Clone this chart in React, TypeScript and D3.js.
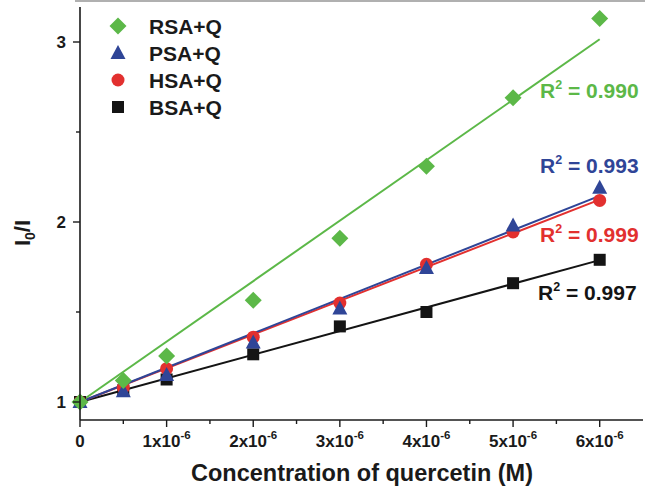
import React from "react";
import * as d3 from "d3";

const concentrations = [0, 0.5e-6, 1e-6, 2e-6, 3e-6, 4e-6, 5e-6, 6e-6];
const seriesNames = ["RSA+Q", "PSA+Q", "HSA+Q", "BSA+Q"];
const rsaValues = [1.0, 1.12, 1.255, 1.565, 1.91, 2.31, 2.69, 3.13];
const psaValues = [1.0, 1.06, 1.15, 1.33, 1.52, 1.745, 1.98, 2.19];
const hsaValues = [1.0, 1.08, 1.185, 1.36, 1.55, 1.765, 1.945, 2.12];
const bsaValues = [1.0, 1.065, 1.125, 1.265, 1.42, 1.5, 1.66, 1.79];
const r2Labels = ["0.990", "0.993", "0.999", "0.997"];
const xTickValues = [0, 1e-6, 2e-6, 3e-6, 4e-6, 5e-6, 6e-6];
const xTickMantissas = ["0", "1x10", "2x10", "3x10", "4x10", "5x10", "6x10"];
const yTickValues = [1, 2, 3];
const yTickLabels = ["1", "2", "3"];

const colors = ["#5cb848", "#2f4597", "#e2302f", "#141414"];
const shapes = ["diamond", "triangle", "circle", "square"];
const seriesValues = [rsaValues, psaValues, hsaValues, bsaValues];
const r2Pos = [
  { x: 540, y: 98 },
  { x: 540, y: 173 },
  { x: 540, y: 242 },
  { x: 538, y: 300 },
];
const FONT = "'Liberation Sans', Arial, Helvetica, sans-serif";

function Marker({ shape, x, y, color }: { shape: string; x: number; y: number; color: string }) {
  if (shape === "diamond") {
    const r = 8.5;
    return <path d={`M${x},${y - r}L${x + r},${y}L${x},${y + r}L${x - r},${y}Z`} fill={color} />;
  }
  if (shape === "triangle") {
    const w = 7.5;
    return <path d={`M${x},${y - 8}L${x + w},${y + 6}L${x - w},${y + 6}Z`} fill={color} />;
  }
  if (shape === "circle") return <circle cx={x} cy={y} r={6.5} fill={color} />;
  return <rect x={x - 6} y={y - 6} width={12} height={12} fill={color} />;
}

export default function App() {
  const width = 645;
  const height = 499;
  const x = d3.scaleLinear().domain([0, 6.5e-6]).range([80, 643]);
  const y = d3.scaleLinear().domain([0.9, 3.2]).range([420, 6]);

  // Stern–Volmer fit with intercept fixed at 1
  const fits = seriesValues.map((vals) => {
    const sxy = d3.sum(concentrations, (c, i) => c * (vals[i] - 1));
    const sxx = d3.sum(concentrations, (c) => c * c);
    const k = sxy / sxx;
    const xs = [0, 6e-6];
    return d3.line<number>().x((c) => x(c)).y((c) => y(1 + k * c))(xs) as string;
  });

  const xMinor = d3.range(0, 13).map((i) => i * 0.5e-6);
  const yMinor = [1.5, 2.5];
  const axisColor = "#1a1a1a";

  const drawOrder = [3, 2, 1, 0];

  return (
    <svg
      width={width}
      height={height}
      style={{ position: "absolute", left: 0, top: 0, background: "#fff" }}
      fontFamily={FONT}
      fontWeight="bold"
    >
      <rect x={0} y={0} width={width} height={height} fill="#fff" />
      <rect x={75} y={0} width={570} height={2} fill="#b0b0b0" />

      {/* fit lines */}
      {drawOrder.map((si) => (
        <path key={"l" + si} d={fits[si]} fill="none" stroke={colors[si]} strokeWidth={2} />
      ))}

      {/* markers */}
      {drawOrder.map((si) =>
        concentrations.map((c, i) => (
          <Marker key={`m${si}-${i}`} shape={shapes[si]} x={x(c)} y={y(seriesValues[si][i])} color={colors[si]} />
        ))
      )}

      {/* axes */}
      <line x1={x(0)} x2={643} y1={420} y2={420} stroke={axisColor} strokeWidth={1.6} />
      <line x1={x(0)} x2={x(0)} y1={7} y2={420} stroke={axisColor} strokeWidth={1.6} />
      {xMinor.map((v, i) => (
        <line key={"xt" + i} x1={x(v)} x2={x(v)} y1={420} y2={i % 2 === 0 ? 427 : 424} stroke={axisColor} strokeWidth={1.4} />
      ))}
      {yTickValues.map((v) => (
        <line key={"yt" + v} x1={x(0) - 7} x2={x(0)} y1={y(v)} y2={y(v)} stroke={axisColor} strokeWidth={1.4} />
      ))}
      {yMinor.map((v) => (
        <line key={"ym" + v} x1={x(0) - 4} x2={x(0)} y1={y(v)} y2={y(v)} stroke={axisColor} strokeWidth={1.4} />
      ))}

      {/* y tick labels */}
      {yTickValues.map((v, i) => (
        <text key={"yl" + v} x={66} y={y(v)} dy="0.36em" textAnchor="end" fontSize={17} fill="#1a1a1a">
          {yTickLabels[i]}
        </text>
      ))}

      {/* x tick labels */}
      {xTickValues.map((v, i) => (
        <text key={"xl" + i} x={x(v)} y={447} textAnchor="middle" fontSize={17} fill="#1a1a1a">
          {xTickMantissas[i]}
          {i > 0 && (
            <tspan fontSize={11.5} dy={-8}>
              -6
            </tspan>
          )}
        </text>
      ))}

      {/* axis titles */}
      <text x={362} y={481} textAnchor="middle" fontSize={23.5} fill="#1a1a1a">
        Concentration of quercetin (M)
      </text>
      <text transform="translate(30,233) rotate(-90)" textAnchor="middle" fontSize={22} fill="#1a1a1a">
        I
        <tspan fontSize={14} dy={5}>
          0
        </tspan>
        <tspan dy={-5}>/I</tspan>
      </text>

      {/* legend */}
      {seriesNames.map((name, i) => (
        <g key={"lg" + i}>
          <Marker shape={shapes[i]} x={118} y={26 + i * 27} color={colors[i]} />
          <text x={149} y={26 + i * 27} dy="0.36em" fontSize={21} fill="#1a1a1a">
            {name}
          </text>
        </g>
      ))}

      {/* R^2 labels */}
      {r2Labels.map((lab, i) => (
        <text key={"r2" + i} x={r2Pos[i].x} y={r2Pos[i].y} fontSize={21} fill={colors[i]}>
          R
          <tspan fontSize={12.5} dy={-9}>
            2
          </tspan>
          <tspan dy={9}>{` = ${lab}`}</tspan>
        </text>
      ))}
    </svg>
  );
}
